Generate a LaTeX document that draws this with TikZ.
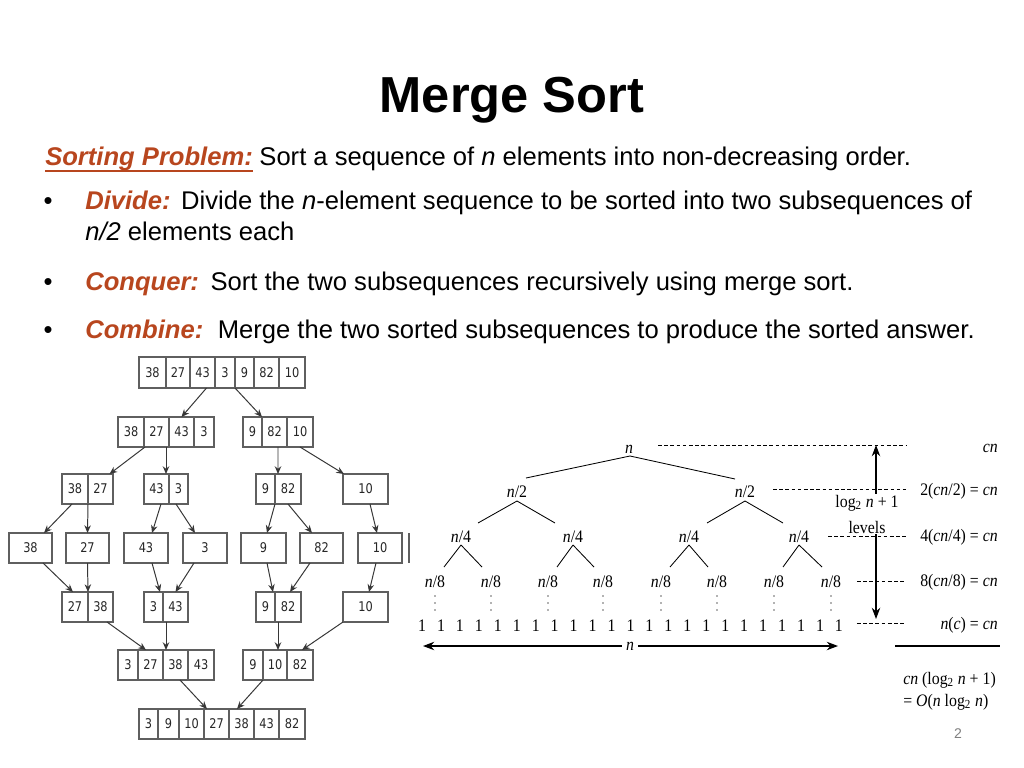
\documentclass[tikz,border=0pt]{standalone}
\usepackage{fontspec}
\setmainfont{Liberation Sans}
\newfontfamily\dvs[FakeStretch=0.85]{DejaVu Sans}
\newfontfamily\tms[FakeStretch=0.9]{Liberation Serif}
\usetikzlibrary{arrows.meta,calc}
\definecolor{brn}{RGB}{184,70,30}
\definecolor{boxc}{RGB}{95,95,95}
\definecolor{arrc}{RGB}{55,55,55}
\newcommand\mcell[6]{\node[cell,minimum width={(#3-#2)*0.025cm},minimum height={(#5-#4)*0.025cm}] (#1) at ({(#2+#3)/2},{(#4+#5)/2}) {#6};}
\tikzset{
  cell/.style={draw=boxc, line width=0.8pt, inner sep=0pt, outer sep=0pt, font=\dvs\fontsize{9.5}{11}\selectfont, text=black!85},
  arr/.style={draw=arrc, line width=0.7pt, -{Stealth[length=5.5pt,width=4.6pt]}},
  rlab/.style={font=\tms\fontsize{12.5}{19}\selectfont, inner sep=0pt, anchor=base},
  tline/.style={line width=0.6pt},
  dashln/.style={line width=0.6pt, dash pattern=on 2.6pt off 1.8pt},
  harr/.style={line width=0.8pt, -{Stealth[length=8pt,width=6pt]}},
  body/.style={font=\fontsize{18.2}{21}\selectfont, inner sep=0pt, anchor=base west},
  hdr/.style={text=brn, font=\fontsize{18.2}{21}\selectfont\bfseries\itshape, inner sep=0pt, anchor=base west}
}
\begin{document}
\begin{tikzpicture}[x=0.025cm,y=-0.025cm]
\path[use as bounding box, fill=white] (0,0) rectangle (1024,768);
% title
\node[anchor=base, font=\bfseries\fontsize{36}{40}\selectfont, inner sep=0pt] (title) at (512,113) {Merge Sort};
% text
\node[hdr] (sp) at (45,165) {Sorting Problem:};
\draw[brn, line width=1.3pt] ($(sp.base west)+(0,6)$) -- ($(sp.base east)+(0,6)$);
\node[body] (t1) at ($(sp.base east)+(6,0)$) {Sort a sequence of \textit{n} elements into non-decreasing order.};
\node[body, anchor=base] (b1) at (48,209) {•};
\node[hdr] (h1) at (85,209) {Divide:};
\node[body] (t2) at ($(h1.base east)+(10,0)$) {Divide the \textit{n}-element sequence to be sorted into two subsequences of};
\node[body] (t3) at (85,240) {\textit{n/2} elements each};
\node[body, anchor=base] (b2) at (48,290) {•};
\node[hdr] (h2) at (85,290) {Conquer:};
\node[body] (t4) at ($(h2.base east)+(11,0)$) {Sort the two subsequences recursively using merge sort.};
\node[body, anchor=base] (b3) at (48,338) {•};
\node[hdr] (h3) at (85,338) {Combine:};
\node[body] (t5) at ($(h3.base east)+(14,0)$) {Merge the two sorted subsequences to produce the sorted answer.};
% ---------------- left tree
\mcell{a1}{139}{166}{357}{388}{38}\mcell{a2}{166}{190}{357}{388}{27}\mcell{a3}{190}{215}{357}{388}{43}\mcell{a4}{215}{235}{357}{388}{3}\mcell{a5}{235}{254}{357}{388}{9}\mcell{a6}{254}{279}{357}{388}{82}\mcell{a7}{279}{305}{357}{388}{10}
\mcell{b1}{118}{144}{417}{447}{38}\mcell{b2}{144}{169}{417}{447}{27}\mcell{b3}{169}{194}{417}{447}{43}\mcell{b4}{194}{214}{417}{447}{3}
\mcell{b5}{243}{262}{417}{447}{9}\mcell{b6}{262}{287}{417}{447}{82}\mcell{b7}{287}{313}{417}{447}{10}
\mcell{c1}{62}{88}{474}{504}{38}\mcell{c2}{88}{113}{474}{504}{27}
\mcell{c3}{144}{169}{474}{504}{43}\mcell{c4}{169}{188}{474}{504}{3}
\mcell{c5}{256}{275}{474}{504}{9}\mcell{c6}{275}{301}{474}{504}{82}
\mcell{c7}{343}{388}{474}{504}{10}
\mcell{d1}{9}{52}{533}{563}{38}\mcell{d2}{66}{109}{533}{563}{27}\mcell{d3}{124}{168}{533}{563}{43}\mcell{d4}{183}{227}{533}{563}{3}\mcell{d5}{241}{286}{533}{563}{9}\mcell{d6}{300}{343}{533}{563}{82}\mcell{d7}{358}{402}{533}{563}{10}
\draw[boxc, line width=0.8pt] (409,533) -- (409,563);
\mcell{e1}{62}{88}{592}{622}{27}\mcell{e2}{88}{113}{592}{622}{38}
\mcell{e3}{144}{163}{592}{622}{3}\mcell{e4}{163}{188}{592}{622}{43}
\mcell{e5}{256}{275}{592}{622}{9}\mcell{e6}{275}{301}{592}{622}{82}
\mcell{e7}{343}{388}{592}{622}{10}
\mcell{f1}{118}{138}{650}{680}{3}\mcell{f2}{138}{163}{650}{680}{27}\mcell{f3}{163}{188}{650}{680}{38}\mcell{f4}{188}{214}{650}{680}{43}
\mcell{f5}{243}{263}{650}{680}{9}\mcell{f6}{263}{287}{650}{680}{10}\mcell{f7}{287}{313}{650}{680}{82}
\mcell{g1}{139}{158}{709}{739}{3}\mcell{g2}{158}{179}{709}{739}{9}\mcell{g3}{179}{204}{709}{739}{10}\mcell{g4}{204}{229}{709}{739}{27}\mcell{g5}{229}{254}{709}{739}{38}\mcell{g6}{254}{279}{709}{739}{43}\mcell{g7}{279}{305}{709}{739}{82}
% arrows
\draw[arr] ($(a3.south)+(4,0)$) -- (b3.north);
\draw[arr] (a4.south east) -- (b5.north east);
\draw[arr] ($(b2.south west)+(1,0)$) -- ($(c2.north)+(9,0)$);
\draw[arr] ($(b2.south east)+(-3,0)$) -- ($(c3.north east)+(-3,0)$);
\draw[arr] ($(b6.south)+(3.5,0)$) -- ($(c6.north west)+(3,0)$);
\draw[arr] (b7.south) -- ($(c7.north west)+(1,0)$);
\draw[arr] ($(c1.south)+(-3,0)$) -- ($(d1.north)+(13.5,0)$);
\draw[arr] (c1.south east) -- (d2.north);
\draw[arr] ($(c3.south)+(4.5,0)$) -- ($(d3.north)+(6,0)$);
\draw[arr] ($(c4.south)+(-2.5,0)$) -- ($(d4.north)+(-10,0)$);
\draw[arr] (c5.south east) -- ($(d5.north)+(3.5,0)$);
\draw[arr] (c6.south) -- ($(d6.north)+(-9.5,0)$);
\draw[arr] ($(c7.south)+(4.5,0)$) -- ($(d7.north)+(-3,0)$);
\draw[arr] ($(d1.south)+(12.5,0)$) -- ($(e1.north)+(-2,0)$);
\draw[arr] (d2.south) -- (e1.north east);
\draw[arr] ($(d3.south)+(6,0)$) -- ($(e3.north)+(6.5,0)$);
\draw[arr] ($(d4.south)+(-11,0)$) -- (e4.north);
\draw[arr] ($(d5.south)+(3.5,0)$) -- ($(e5.north east)+(-2,0)$);
\draw[arr] ($(d6.south)+(-11.5,0)$) -- ($(e6.north)+(2,0)$);
\draw[arr] ($(d7.south)+(-4,0)$) -- ($(e7.north)+(3.5,0)$);
\draw[arr] ($(e2.south)+(6.5,0)$) -- ($(f2.north)+(-4.5,0)$);
\draw[arr] ($(e4.south west)+(3,0)$) -- ($(f3.north west)+(3,0)$);
\draw[arr] ($(e6.south west)+(3,0)$) -- ($(f6.north)+(3,0)$);
\draw[arr] (e7.south west) -- ($(f7.north)+(2,0)$);
\draw[arr] ($(f3.south)+(4.5,0)$) -- ($(g4.north)+(-9.5,0)$);
\draw[arr] (f5.south east) -- ($(g5.north)+(-4.5,0)$);
% ---------------- recursion tree
\node[rlab] (r0) at (629,453) {\textit{n}};
\node[rlab] (r1) at (517,497) {\textit{n}/2};
\node[rlab] (r2) at (745,497) {\textit{n}/2};
\node[rlab] (q1) at (461,542) {\textit{n}/4};
\node[rlab] (q2) at (573,542) {\textit{n}/4};
\node[rlab] (q3) at (689,542) {\textit{n}/4};
\node[rlab] (q4) at (799,542) {\textit{n}/4};
\foreach \nm/\xx in {p1/435,p2/491,p3/548,p4/603,p5/661,p6/717,p7/774,p8/831}
  \node[rlab] (\nm) at (\xx,587) {\textit{n}/8};
\foreach \i in {0,...,22}
  \node[rlab] (o\i) at ({422+18.95*\i},631) {1};
\draw[tline] ($(r0.base)+(1,3)$) -- ($(r1.base)+(9,-19)$);
\draw[tline] ($(r0.base)+(1,3)$) -- ($(r2.base)+(-10,-18)$);
\draw[tline] ($(r1.base)+(0,4)$) -- ($(q1.base)+(17,-19)$);
\draw[tline] ($(r1.base)+(0,4)$) -- ($(q2.base)+(-18,-19)$);
\draw[tline] ($(r2.base)+(0,4)$) -- ($(q3.base)+(18,-19)$);
\draw[tline] ($(r2.base)+(0,4)$) -- ($(q4.base)+(-16,-19)$);
\foreach \q/\pl/\pr in {q1/p1/p2,q2/p3/p4,q3/p5/p6,q4/p7/p8}{
  \draw[tline] ($(\q.base)+(0,3)$) -- ($(\pl.base)+(9,-20)$);
  \draw[tline] ($(\q.base)+(0,3)$) -- ($(\pr.base)+(-9,-20)$);
}
\foreach \p in {p1,p2,p3,p4,p5,p6,p7,p8}
  \foreach \d in {9,16,23}
    \fill[black!60] ($(\p.base)+(0,\d)$) circle (0.8);
% n arrow
\node[rlab, anchor=center] (nn) at (630,646) {\textit{n}};
\coordinate (nL) at (423,646);
\coordinate (nR) at (838,646);
\draw[harr] ($(nn.west)+(-4,0)$) -- (nL);
\draw[harr] ($(nn.east)+(4,0)$) -- (nR);
% dashed level lines
\coordinate (k0) at (906,445);
\coordinate (k1) at (906,489);
\coordinate (k2) at (906,536);
\coordinate (k3) at (906,581);
\coordinate (k4) at (906,623);
\draw[dashln] ($(r0.base)+(29,-8)$) -- (k0);
\draw[dashln] ($(r2.base)+(28,-8)$) -- (k1);
\draw[dashln] ($(q4.base)+(29,-6)$) -- (k2);
\draw[dashln] ($(p8.base)+(26,-6)$) -- (k3);
\draw[dashln] ($(o22.base)+(18,-8)$) -- (k4);
% levels arrow
\node[rlab, anchor=center, align=center] (lv) at (867,514.5) {log\textsubscript{2} \textit{n} + 1\\levels};
\coordinate (vt) at (876,445);
\coordinate (vb) at (876,619);
\draw[harr] ($(lv.north -| vt)+(0,-1)$) -- (vt);
\draw[harr] (lv.south -| vb) -- (vb);
% right labels
\node[rlab, anchor=base east] (l0) at (998,452) {\textit{cn}};
\node[rlab, anchor=base east] (l1) at (998,495) {2(\textit{cn}/2) = \textit{cn}};
\node[rlab, anchor=base east] (l2) at (998,541) {4(\textit{cn}/4) = \textit{cn}};
\node[rlab, anchor=base east] (l3) at (998,586) {8(\textit{cn}/8) = \textit{cn}};
\node[rlab, anchor=base east] (l4) at (998,629) {\textit{n}(\textit{c}) = \textit{cn}};
\draw[line width=0.8pt] (895,646) -- (1000,646);
\node[rlab, anchor=base west] (l5) at (903,684) {\textit{cn} (log\textsubscript{2} \textit{n} + 1)};
\node[rlab, anchor=base west] (l6) at (903,706) {= \textit{O}(\textit{n} log\textsubscript{2} \textit{n})};
% page number
\node[font=\fontsize{10}{12}\selectfont, text=black!50, inner sep=0pt] (pg) at (958,734) {2};
\end{tikzpicture}
\end{document}
